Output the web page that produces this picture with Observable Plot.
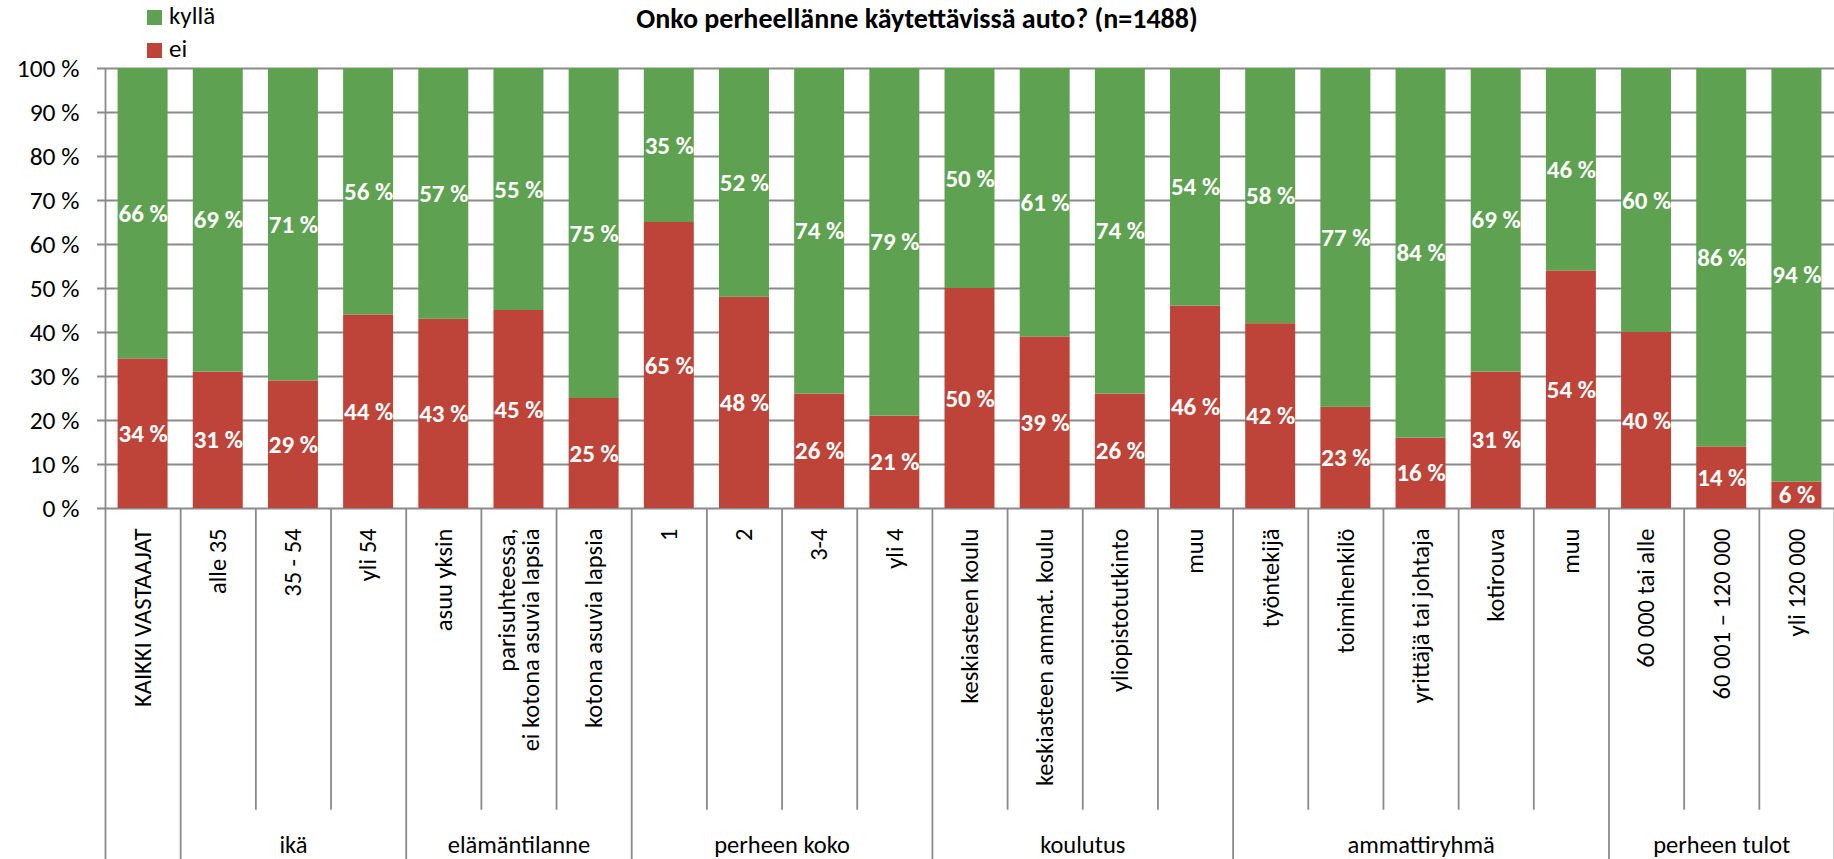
<!DOCTYPE html>
<html><head><meta charset="utf-8">
<script src="https://cdn.jsdelivr.net/npm/d3@7"></script>
<script src="https://cdn.jsdelivr.net/npm/@observablehq/plot@0.6"></script>
<style>
html,body{margin:0;padding:0;background:#fff;overflow:hidden;}
#wrap{width:1834px;font-family:Carlito, Lato, "Open Sans", sans-serif;color:#000;}
#head{position:relative;height:30px;z-index:2;}
#title{position:absolute;left:0;width:1834px;top:5px;text-align:center;font-weight:bold;font-size:28px;line-height:28px;white-space:nowrap;}
.sw{position:absolute;left:147px;width:15px;height:15px;}
.lt{position:absolute;left:169px;font-size:25px;line-height:25px;white-space:nowrap;}
svg{display:block;}
</style></head><body>
<div id="wrap">
  <div id="head">
    <div id="title"></div>
    <div class="sw" id="sw0" style="top:10px"></div><div class="lt" id="lt0" style="top:3px"></div>
    <div class="sw" id="sw1" style="top:43px"></div><div class="lt" id="lt1" style="top:36px"></div>
  </div>
  <div id="chart"></div>
</div>
<script>
const titleText = "Onko perheellänne käytettävissä auto? (n=1488)";
const categories = ["KAIKKI VASTAAJAT","alle 35","35 - 54","yli 54","asuu yksin","parisuhteessa,\nei kotona asuvia lapsia","kotona asuvia lapsia","1","2","3-4","yli 4","keskiasteen koulu","keskiasteen ammat. koulu","yliopistotutkinto","muu","työntekijä","toimihenkilö","yrittäjä tai johtaja","kotirouva","muu","60 000 tai alle","60 001 – 120 000","yli 120 000"];
const groupNames = ["", "ikä", "elämäntilanne", "perheen koko", "koulutus", "ammattiryhmä", "perheen tulot"];
const groupSizes = [1, 3, 3, 4, 4, 5, 3];
const ei    = [34,31,29,44,43,45,25,65,48,26,21,50,39,26,46,42,23,16,31,54,40,14,6];
const kylla = [66,69,71,56,57,55,75,35,52,74,79,50,61,74,54,58,77,84,69,46,60,86,94];
const seriesNames = ["kyllä", "ei"];
const seriesColors = ["#5EA151", "#BE443A"];
const yTicks = [0,10,20,30,40,50,60,70,80,90,100];

document.getElementById("title").textContent = titleText;
seriesNames.forEach((s, k) => {
  document.getElementById("sw" + k).style.background = seriesColors[k];
  document.getElementById("lt" + k).textContent = s;
});

const n = categories.length;
const rows = categories.map((c, i) => ({i, cat: c}));
const segs = [];
categories.forEach((c, i) => {
  segs.push({i, s: "ei", y1: 0, y2: ei[i], v: ei[i]});
  segs.push({i, s: "kyllä", y1: ei[i], y2: ei[i] + kylla[i], v: kylla[i]});
});
const groups = [];
let start = 0;
groupNames.forEach((g, k) => { groups.push({name: g, start, size: groupSizes[k]}); start += groupSizes[k]; });
const groupBounds = groups.map(g => g.start).concat([n]);
const innerBounds = d3.range(1, n).filter(b => !groupBounds.includes(b));

const grid = "#8a8a8a";
const font = "Carlito, Lato, 'Open Sans', sans-serif";

const chart = Plot.plot({
  width: 1834, height: 829,
  marginLeft: 105, marginRight: 0, marginTop: 38, marginBottom: 351,
  x: {type: "linear", domain: [0, n], axis: null},
  y: {domain: [0, 100], ticks: yTicks, tickFormat: d => d + " %", tickSize: 0, tickPadding: 26, label: null},
  color: {domain: seriesNames, range: seriesColors},
  style: {fontFamily: font, fontSize: "25.5px", color: "#000", background: "transparent"},
  marks: [
    Plot.ruleY(yTicks, {stroke: grid, strokeWidth: 1.8, insetLeft: -8}),
    Plot.ruleX(innerBounds, {x: d => d, y1: 0, y2: -68.6, stroke: grid, strokeWidth: 1.8}),
    Plot.ruleX(groupBounds, {x: d => d, y1: d => d === 0 ? 100 : 0, y2: -80, stroke: grid, strokeWidth: 1.8}),
    Plot.rectY(segs, {x1: d => d.i, x2: d => d.i + 1, y1: "y1", y2: "y2", fill: "s", insetLeft: 12.6, insetRight: 12.6}),
    Plot.text(segs, {x: d => d.i + 0.5, y: d => (d.y1 + d.y2) / 2, text: d => d.v + " %", fill: "white", fontWeight: "bold", fontSize: 25}),
    Plot.text(rows, {x: d => d.i + 0.5, y: () => 0, text: "cat", rotate: -90, textAnchor: "end", lineAnchor: "middle", dy: 20, fontSize: 24.5, fill: "black"}),
    Plot.text(groups.filter(g => g.name), {x: g => g.start + g.size / 2, y: () => 0, text: "name", dy: 337, fontSize: 24.5, fill: "black"})
  ]
});
document.getElementById("chart").appendChild(chart);
</script>
</body></html>
